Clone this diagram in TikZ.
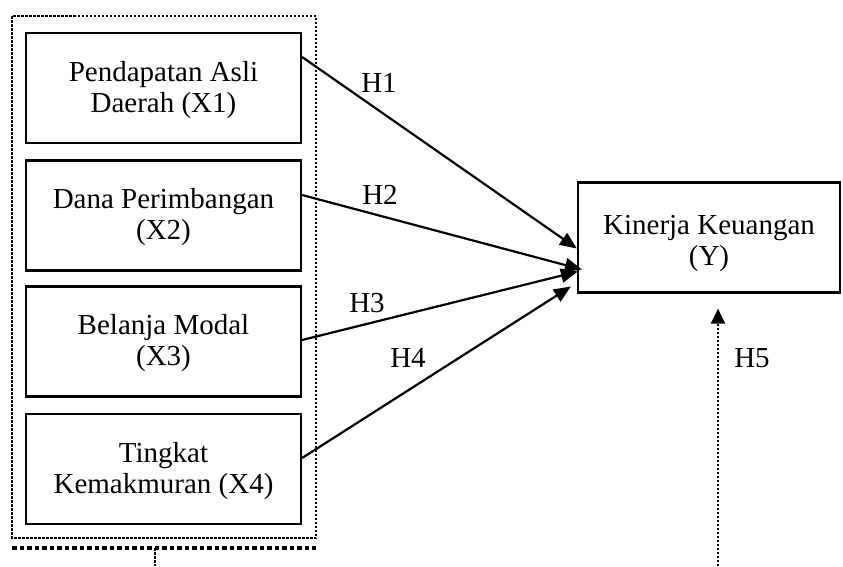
\documentclass[tikz,border=0pt]{standalone}
\usepackage{fontspec}
\setmainfont{Liberation Serif}
\usetikzlibrary{arrows.meta}
\begin{document}
\begin{tikzpicture}[x=1pt,y=-1pt,
  varbox/.style={draw,line width=2.2pt,minimum width=275pt,minimum height=110pt,
    align=center,inner sep=0pt,font=\fontsize{29}{31}\selectfont},
  vartext/.style={align=center,inner sep=0pt,font=\fontsize{29}{31}\selectfont},
  link/.style={line width=2.2pt,-{Triangle[length=17pt,width=14pt]}},
  lbl/.style={font=\fontsize{29}{31}\selectfont,inner sep=0pt},
  groupline/.style={line width=2.4pt,dash pattern=on 2.5pt off 1.5pt}]
  \useasboundingbox (0,0) rectangle (843,566);
  % independent variables
  \node[varbox] (x1) at (163.5,88) {};
  \node[vartext] (t1) at ([yshift=-2pt]x1.center) {Pendapatan Asli\\Daerah (X1)};
  \node[varbox] (x2) at (163.5,215.5) {};
  \node[vartext] (t2) at ([yshift=-2pt]x2.center) {Dana Perimbangan\\(X2)};
  \node[varbox] (x3) at (163.5,341.5) {};
  \node[vartext] (t3) at ([yshift=-2pt]x3.center) {Belanja Modal\\(X3)};
  \node[varbox] (x4) at (163.5,469) {};
  \node[vartext] (t4) at ([yshift=-2pt]x4.center) {Tingkat\\Kemakmuran (X4)};
  % dependent variable
  \node[varbox,minimum width=262pt,minimum height=110pt] (y) at (709,237.5) {};
  \node[vartext] (ty) at ([yshift=-6pt]y.center) {Kinerja Keuangan\\(Y)};
  % grouping frame around X1..X4
  \draw[groupline] (12,16) rectangle (316,538);
  \draw[line width=3.2pt,dash pattern=on 4.5pt off 3pt] (12,548) -- (316,548);
  \coordinate (gbot) at (155,548);
  \coordinate (gout) at (155,566);
  \draw[groupline] (gbot) -- (gout);
  % hypotheses
  \draw[link] ([yshift=31pt]x1.east) -- ([yshift=-11pt]y.west);
  \draw[link] ([yshift=20.5pt]x2.east) -- ([xshift=5pt,yshift=-32pt]y.west);
  \draw[link] ([yshift=1.5pt]x3.east) -- ([xshift=1pt,yshift=-34pt]y.west);
  \draw[link] ([yshift=11pt]x4.east) -- ([xshift=-6pt,yshift=-49pt]y.west);
  \node[lbl] (h1) at (379,83) {H1};
  \node[lbl] (h2) at (380,195) {H2};
  \node[lbl] (h3) at (367,303) {H3};
  \node[lbl] (h4) at (408,358) {H4};
  % moderating path
  \coordinate (h5start) at (718,566);
  \draw[groupline,-{Triangle[length=15pt,width=14pt]}] (h5start) -- ([yshift=-15pt]y.south -| h5start);
  \node[lbl] (h5) at (752,358) {H5};
\end{tikzpicture}
\end{document}
